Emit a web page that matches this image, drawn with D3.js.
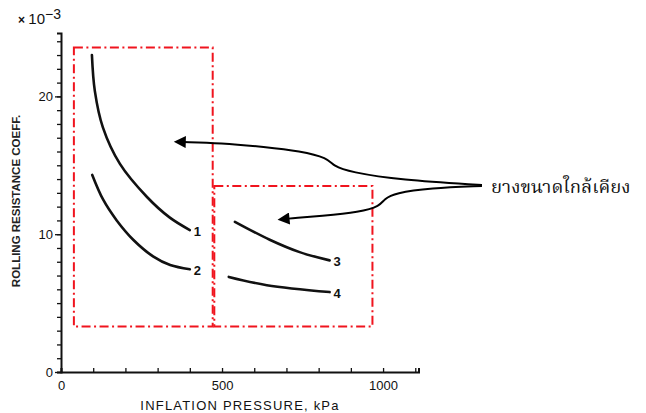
<!DOCTYPE html>
<html>
<head>
<meta charset="utf-8">
<script src="https://cdn.jsdelivr.net/npm/d3@7"></script>
<style>
  body { margin: 0; background: #fff; }
  svg { display: block; }
  .tick text { font-family: "Liberation Sans", Arial, sans-serif; font-size: 13px; fill: #111; }
</style>
</head>
<body>
<svg width="646" height="413"></svg>
<script>
// curves (x = kPa, y = coeff x 10^-3)
let curveNames = ["1", "2", "3", "4"];
let curveX = [
  [96, 105, 130, 183, 267, 338, 400],
  [97, 131, 173, 225, 287, 339, 400],
  [540, 648, 741, 834],
  [521, 639, 834]
];
let curveY = [
  [23.0, 20.4, 17.75, 15.1, 12.7, 11.2, 10.3],
  [14.3, 12.5, 11.0, 9.58, 8.37, 7.76, 7.45],
  [10.9, 9.6, 8.7, 8.1],
  [6.9, 6.3, 5.8]
];

// dash-dot grouping boxes [x0, x1, y0, y1]
let boxes = [
  [40, 471, 3.3, 23.55],
  [476, 967, 3.3, 13.5]
];

// callout arrows, from the label back to the boxes
let arrowX = [
  [1307, 1053, 898, 845, 829, 742, 634, 494, 380],
  [1307, 1146, 1037, 1003, 991, 929, 804, 727, 702]
];
let arrowY = [
  [13.57, 13.93, 14.51, 14.95, 15.53, 16.04, 16.33, 16.62, 16.69],
  [13.50, 13.35, 12.99, 12.55, 12.05, 11.61, 11.32, 11.18, 11.12]
];
let calloutText = "ยางขนาดใกล้เคียง";

let xTickLabels = [0, 500, 1000];
let yTickLabels = [0, 10, 20];

let svg = d3.select("svg");

let x = d3.scaleLinear().domain([0, 1110]).range([61, 418.5]);
let y = d3.scaleLinear().domain([0, 24.6]).range([372, 33]);

// axes
svg.append("g")
    .attr("transform", "translate(0,372)")
    .call(d3.axisBottom(x).tickValues(d3.range(0, 1101, 100)).tickSize(-4).tickFormat(""))
    .call(g => g.select(".domain").attr("stroke", "#111").attr("stroke-width", 2));
svg.append("g")
    .attr("transform", "translate(0,372)")
    .call(d3.axisBottom(x).tickValues(xTickLabels).tickSize(0).tickPadding(9).tickFormat(d3.format("d")))
    .call(g => g.select(".domain").remove());

svg.append("g")
    .attr("transform", "translate(61,0)")
    .call(d3.axisLeft(y).tickValues(d3.range(0, 25, 1)).tickSize(4).tickFormat(""))
    .call(g => g.select(".domain").attr("stroke", "#111").attr("stroke-width", 2));
svg.append("g")
    .attr("transform", "translate(61,0)")
    .call(d3.axisLeft(y).tickValues(yTickLabels).tickSize(6).tickPadding(2))
    .call(g => g.select(".domain").remove());
svg.selectAll(".tick line").attr("stroke", "#111").attr("stroke-width", 1.3);

// axis titles
svg.append("text")
    .attr("x", 240).attr("y", 410)
    .attr("text-anchor", "middle")
    .style("font-family", "Liberation Sans, Arial, sans-serif")
    .style("font-size", "13px")
    .style("letter-spacing", "1.2px")
    .attr("fill", "#111")
    .text("INFLATION PRESSURE, kPa");

svg.append("text")
    .attr("transform", "translate(20,201) rotate(-90)")
    .attr("text-anchor", "middle")
    .style("font-family", "Liberation Sans Narrow, Liberation Sans, Arial, sans-serif")
    .style("font-size", "11.5px")
    .style("font-weight", "bold")
    .attr("fill", "#222")
    .text("ROLLING RESISTANCE COEFF.");

let mult = svg.append("text")
    .attr("x", 18).attr("y", 24)
    .style("font-family", "Liberation Sans, Arial, sans-serif")
    .attr("fill", "#111");
mult.append("tspan").style("font-size", "12px").style("font-weight", "bold").text("× ");
mult.append("tspan").style("font-size", "15px").text("10");
mult.append("tspan").style("font-size", "14px").attr("dy", -5).text("−3");

// dash-dot boxes
svg.selectAll("rect.box")
    .data(boxes)
  .enter().append("rect")
    .attr("class", "box")
    .attr("x", d => x(d[0]))
    .attr("y", d => y(d[3]))
    .attr("width", d => x(d[1]) - x(d[0]))
    .attr("height", d => y(d[2]) - y(d[3]))
    .attr("fill", "none")
    .attr("stroke", "#f0141e")
    .attr("stroke-width", 2)
    .attr("stroke-dasharray", "9,3.5,2,3.5");

// curves
let line = d3.line()
    .x(d => x(d[0]))
    .y(d => y(d[1]))
    .curve(d3.curveCatmullRom.alpha(0.5));

let curves = curveNames.map((name, i) => ({
  name: name,
  pts: curveX[i].map((v, j) => [v, curveY[i][j]])
}));

svg.selectAll("path.curve")
    .data(curves)
  .enter().append("path")
    .attr("class", "curve")
    .attr("d", d => line(d.pts))
    .attr("fill", "none")
    .attr("stroke", "#111")
    .attr("stroke-width", 2.6)
    .attr("stroke-linecap", "round");

svg.selectAll("text.cname")
    .data(curves)
  .enter().append("text")
    .attr("class", "cname")
    .attr("x", d => x(d.pts[d.pts.length - 1][0]) + 4)
    .attr("y", d => y(d.pts[d.pts.length - 1][1]) + 6)
    .style("font-family", "Liberation Sans, Arial, sans-serif")
    .style("font-size", "13px")
    .style("font-weight", "bold")
    .attr("fill", "#111")
    .text(d => d.name);

// callout arrows
svg.append("defs").append("marker")
    .attr("id", "head")
    .attr("viewBox", "0 0 10 10")
    .attr("refX", 2).attr("refY", 5)
    .attr("markerWidth", 14).attr("markerHeight", 12)
    .attr("markerUnits", "userSpaceOnUse")
    .attr("orient", "auto")
  .append("path")
    .attr("d", "M0,0L10,5L0,10Z")
    .attr("fill", "#000");

let arrowLine = d3.line()
    .x(d => x(d[0]))
    .y(d => y(d[1]))
    .curve(d3.curveBasis);

svg.selectAll("path.arrow")
    .data(arrowX.map((xs, i) => xs.map((v, j) => [v, arrowY[i][j]])))
  .enter().append("path")
    .attr("class", "arrow")
    .attr("d", arrowLine)
    .attr("fill", "none")
    .attr("stroke", "#000")
    .attr("stroke-width", 2)
    .attr("marker-end", "url(#head)");

svg.append("text")
    .attr("x", 491).attr("y", 193)
    .style("font-family", "Noto Serif Thai, serif")
    .style("font-size", "18.5px")
    .attr("fill", "#111")
    .text(calloutText);
</script>
</body>
</html>
